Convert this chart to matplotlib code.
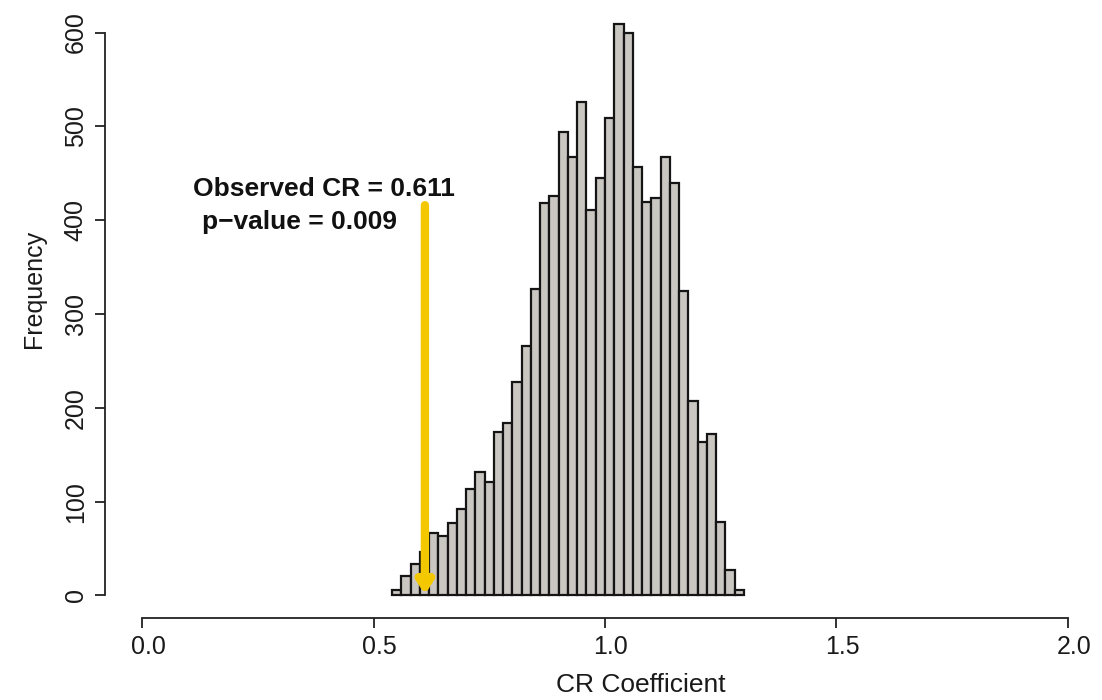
import numpy as np
import matplotlib
matplotlib.use("Agg")
import matplotlib.pyplot as plt
from matplotlib.transforms import ScaledTranslation

plt.rcParams["font.family"] = ["Liberation Sans", "DejaVu Sans"]

# histogram of permuted CR coefficients, bins of 0.02 from 0.54 to 1.30
bin_edges = np.round(np.arange(0.54, 1.3001, 0.02), 2)
counts = [6, 21, 34, 46, 67, 63, 77, 92, 114, 132, 121, 174, 184, 227,
          266, 327, 418, 426, 494, 467, 526, 411, 445, 509, 609, 599,
          457, 419, 424, 467, 440, 325, 207, 164, 172, 78, 27, 6]
x_ticks = [0.0, 0.5, 1.0, 1.5, 2.0]
x_ticklabels = ["0.0", "0.5", "1.0", "1.5", "2.0"]
y_ticks = [0, 100, 200, 300, 400, 500, 600]
observed_cr = 0.611
p_value = 0.009

W, H = 1102, 700
fig = plt.figure(figsize=(W / 100, H / 100), dpi=100)
ax = fig.add_axes([105 / W, (H - 618) / H, 1000 / W, 608 / H])
ax.set_xlim(-0.08, 2.08)
ax.set_ylim(-24, 624)

ax.bar(bin_edges[:-1], counts, width=0.02, align="edge",
       color="#CAC7C3", edgecolor="#151515", linewidth=1.6)

# R style detached axes
for side in ("top", "right"):
    ax.spines[side].set_visible(False)
ax.spines["bottom"].set_bounds(0, 2)
ax.spines["left"].set_bounds(0, 600)
for side in ("bottom", "left"):
    ax.spines[side].set_linewidth(1.3)
    ax.spines[side].set_color("#222222")

ax.set_xticks(x_ticks)
ax.set_xticklabels(x_ticklabels)
ax.set_yticks(y_ticks)
ax.tick_params(direction="out", length=7.5, width=1.3, colors="#222222",
               labelsize=18, labelcolor="#1a1a1a")
ax.tick_params(axis="x", pad=4.5)
ax.tick_params(axis="y", pad=5)
shift = ScaledTranslation(6 / 100, 0, fig.dpi_scale_trans)
for lab in ax.get_xticklabels():
    lab.set_transform(lab.get_transform() + shift)
for lab in ax.get_yticklabels():
    lab.set_rotation(90)
    lab.set_va("center")

fig.text(34 / W, 1 - 289 / H, "Frequency", rotation=90, ha="center",
         va="center", fontsize=18, color="#1a1a1a")
fig.text(641 / W, 1 - 692 / H, "CR Coefficient", ha="center",
         va="baseline", fontsize=19, color="#1a1a1a")

# observed value arrow
ax.annotate("", xy=(observed_cr, 1), xytext=(observed_cr, 416),
            arrowprops=dict(arrowstyle="-|>,head_length=0.7,head_width=0.45",
                            lw=6, color="#F4C800", shrinkA=0, shrinkB=0),
            zorder=5)
ax.text(0.110, 433, f"Observed CR = {observed_cr}", fontsize=19,
        fontweight="bold", ha="left", va="center", color="#111111")
ax.text(0.130, 398, f"p\u2212value = {p_value}", fontsize=19,
        fontweight="bold", ha="left", va="center", color="#111111")

fig.savefig("out.png", dpi=100)
